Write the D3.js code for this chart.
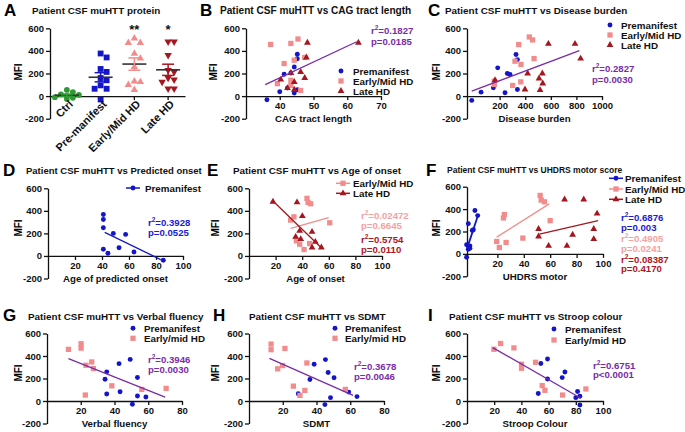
<!DOCTYPE html>
<html>
<head>
<meta charset="utf-8">
<script src="https://cdn.jsdelivr.net/npm/d3@7"></script>
<style>
  body { margin: 0; background: #fff; }
  svg text { font-family: "Liberation Sans", Arial, sans-serif; font-weight: bold; }
  .axis path, .axis line { stroke: #111; stroke-width: 1.3; }
  .axis text { font-size: 9.5px; fill: #111; }
</style>
</head>
<body>
<svg id="fig" width="685" height="432"></svg>
<script>
"use strict";

// ---- data ----
const groups = ["Ctrl", "Pre-manifest", "Early/Mid HD", "Late HD"];
const ctrlMfi = [55, 35, 15, 10, 0, -10, -25, -15];
const preMfi = [377, 342, 240, 214, 160, 140, 95, 65, 65, -30];
const earlyMfi = [511, 472, 472, 377, 333, 258, 131, 125, 100, 56];
const lateMfi = [481, 481, 362, 229, 214, 160, 145, 125, 65, 65];
const stars = ["", "", "**", "*"];

const yTicks = [-200, 0, 200, 400, 600];

// B: CAG tract length
const cagPre = [[36.2,-33],[40,39],[41.3,193],[44.3,258],[45.2,371],[45.2,330],[42.3,71],[44.3,27],[45.2,56],[43.3,205]];
const cagEarly = [[37.3,457],[43.3,466],[45.4,505],[41.3,288],[44.3,318],[47.4,342],[39.3,110],[43.3,140],[43.3,95],[46.2,50]];
const cagLate = [[48.2,472],[63.3,472],[47.9,342],[46.2,214],[47.4,160],[40.3,146],[44.3,125],[42.3,71],[44.3,56],[43.3,205]];
const cagFit = [[35.7,101],[62.8,481]];

// C: disease burden
const burdenPre = [[-18,-38],[55,35],[151,73],[185,250],[260,200],[281,191],[242,29],[328,368],[339,323],[339,59]];
const burdenEarly = [[349,456],[432,523],[458,497],[320,309],[367,280],[469,332],[302,94],[365,126],[159,132],[159,103]];
const burdenLate = [[164,140],[398,59],[419,200],[508,156],[534,200],[537,112],[516,53],[581,462],[789,462],[833,332]];
const burdenFit = [[-18,44],[823,403]];

// D: predicted onset
const predOnsetPre = [[41,368],[41,323],[41,250],[48.4,200],[57.5,191],[52.6,73],[41,59],[44.4,24],[63.7,35],[85.4,-38]];
const predOnsetFit = [[42,209],[83.5,-32]];

// E: age of onset
const onsetEarly = [[43.6,511],[44.4,475],[46.4,463],[33.8,347],[31.3,318],[60.7,294],[35.6,134],[45.6,110],[38.1,104],[41.4,57]];
const onsetLate = [[18,481],[36.1,475],[40.1,353],[38.1,223],[47.4,214],[35.1,169],[38.9,149],[49.9,125],[47.4,75],[54.4,75]];
const onsetEarlyFit = [[31.3,244],[59.9,341]];
const onsetLateFit = [[18,487],[54.9,66]];

// F: UHDRS motor
const motorPre = [[3,387],[5.1,342],[-2,270],[1.8,216],[1,210],[-3.3,81],[-0.8,72],[-2,42],[-0.8,51],[-3.3,-30]];
const motorEarly = [[52.4,522],[53.2,480],[55.7,465],[25.3,351],[24.6,321],[60,297],[39.3,141],[19.5,111],[26.6,102],[21.5,57]];
const motorLate = [[70.9,486],[85.4,486],[95.5,360],[51.2,222],[93,222],[51.2,156],[77,171],[93,132],[58.8,72],[72.7,72]];
const motorPreFit = [[-3.3,36],[5.1,336]];
const motorEarlyFit = [[19.5,150],[59.3,447]];
const motorLateFit = [[51.9,177],[96.3,297]];

// G: verbal fluency
const verbalPre = [[49.3,370],[42.7,332],[35.4,259],[34.4,194],[53.6,209],[35.4,62],[43.3,82],[53.6,44],[58.6,35],[50.6,-29]];
const verbalEarly = [[12.7,459],[20.2,509],[20.2,470],[26.5,347],[23.1,318],[27.5,288],[38.4,135],[22.7,53],[56.2,103],[70.6,112]];
const verbalFit = [[12.7,376],[70,35]];

// H: SDMT
const sdmtPre = [[45.3,368],[38.6,326],[46.9,253],[50.4,206],[36.1,191],[29.2,65],[48.3,30],[59.1,79],[64,39],[45,-32]];
const sdmtEarly = [[13.1,506],[13.1,456],[21.3,467],[19.9,315],[17,286],[34.3,338],[26.3,132],[33.1,94],[30.2,50],[57.1,103]];
const sdmtFit = [[12.1,379],[61.7,50]];

// I: Stroop colour
const stroopPre = [[59.2,374],[54.3,333],[72,258],[70,208],[59.2,196],[52.4,66],[81.3,84],[80,30],[83,42],[83,-36]];
const stroopEarly = [[19.8,460],[24.7,511],[34.5,472],[40.1,327],[40.1,291],[50.4,344],[55.3,137],[57.3,95],[70.3,53],[87.4,107]];
const stroopFit = [[18.9,475],[83.7,24]];

// ---- styles ----
const BLUE = "#1414c8", PINK = "#f28c8c", DARK = "#a5161e", GREEN = "#2f9a32", PURPLE = "#7a2ca6";
const PINK_TXT = "#f4a2a2", DARK_TXT = "#b0141c", BLUE_TXT = "#1a1ad2";

const pre = {name: "Premanifest", color: BLUE, shape: d3.symbolCircle, size: 19};
const early = {name: "Early/Mid HD", color: PINK, shape: d3.symbolSquare, size: 28};
const earlyLc = {name: "Early/mid HD", color: PINK, shape: d3.symbolSquare, size: 28};
const late = {name: "Late HD", color: DARK, shape: d3.symbolTriangle, size: 20};

const plain = d => String(d);

const svg = d3.select("#fig");

function letter(x, y, s) {
  svg.append("text").attr("x", x).attr("y", y).attr("font-size", 17).text(s);
}

function title(x, y, s, size = 9.9) {
  svg.append("text").attr("x", x).attr("y", y).attr("font-size", size).attr("fill", "#111").text(s);
}

function mfiLabel(x, yc) {
  svg.append("text").attr("transform", `translate(${x},${yc}) rotate(-90)`)
     .attr("text-anchor", "middle").attr("dy", "0.35em").attr("font-size", 10).text("MFI");
}

function statText(x, y1, y2, r2, p, color) {
  const t = svg.append("text").attr("x", x).attr("y", y1 + 3.4).attr("fill", color).attr("font-size", 9.6);
  t.append("tspan").text("r");
  t.append("tspan").attr("dy", -4).attr("font-size", 6.5).text("2");
  t.append("tspan").attr("dy", 4).text("=" + r2);
  svg.append("text").attr("x", x).attr("y", y2 + 3.4).attr("fill", color).attr("font-size", 9.6).text(p);
}

function legend(mx, tx, ys, entries, withLine) {
  entries.forEach((e, i) => {
    if (withLine) {
      svg.append("line").attr("x1", mx - 7).attr("x2", mx + 7).attr("y1", ys[i]).attr("y2", ys[i])
         .attr("stroke", e.color).attr("stroke-width", 1.5);
    }
    svg.append("path").attr("transform", `translate(${mx},${ys[i]})`)
       .attr("d", d3.symbol(e.shape, e.size)()).attr("fill", e.color);
    svg.append("text").attr("x", tx).attr("y", ys[i] + 3.5).attr("font-size", 9.8).attr("fill", "#111").text(e.name);
  });
}

function scatterPanel(p) {
  const x = d3.scaleLinear().domain(p.xDomain).range(p.xRange);
  const y = d3.scaleLinear().domain([-200, 600]).range(p.yRange);
  const g = svg.append("g");

  g.append("g").attr("class", "axis").attr("transform", `translate(${p.xRange[0]},0)`)
   .call(d3.axisLeft(y).tickValues(yTicks).tickFormat(plain).tickSize(4).tickSizeOuter(0).tickPadding(2));
  g.append("g").attr("class", "axis").attr("transform", `translate(0,${y(0)})`)
   .call(d3.axisBottom(x).tickValues(p.xTicks).tickFormat(plain).tickSize(4).tickSizeOuter(0).tickPadding(2));

  g.append("text").attr("x", (p.xRange[0] + p.xRange[1]) / 2).attr("y", p.yRange[0] + 3.2)
   .attr("text-anchor", "middle").attr("font-size", 9.7).attr("fill", "#111").text(p.xLabel);

  p.series.forEach(s => {
    g.append("g").selectAll("path").data(s.data).join("path")
     .attr("transform", d => `translate(${x(d[0])},${y(d[1])})`)
     .attr("d", d3.symbol(s.shape, s.size)()).attr("fill", s.color);
  });

  p.fits.forEach(f => {
    g.append("line")
     .attr("x1", x(f.pts[0][0])).attr("y1", y(f.pts[0][1]))
     .attr("x2", x(f.pts[1][0])).attr("y2", y(f.pts[1][1]))
     .attr("stroke", f.color).attr("stroke-width", f.width || 1.3);
  });
}

// ---- A: dot plot with mean +/- SEM ----
(function panelA() {
  const x = d3.scaleBand().domain(groups).range([50, 185]);
  const y = d3.scaleLinear().domain([-200, 600]).range([118.7, 28.3]);
  const g = svg.append("g");
  const sets = [
    {vals: ctrlMfi, color: GREEN, shape: d3.symbolCircle, size: 26, rot: 0},
    {vals: preMfi, color: BLUE, shape: d3.symbolSquare, size: 34, rot: 0},
    {vals: earlyMfi, color: PINK, shape: d3.symbolTriangle, size: 24, rot: 0},
    {vals: lateMfi, color: DARK, shape: d3.symbolTriangle, size: 24, rot: 180},
  ];

  g.append("g").attr("class", "axis").attr("transform", "translate(50,0)")
   .call(d3.axisLeft(y).tickValues(yTicks).tickFormat(plain).tickSize(4).tickSizeOuter(0).tickPadding(2));
  g.append("g").attr("class", "axis").attr("transform", `translate(0,${y(0)})`)
   .call(d3.axisBottom(x).tickSize(4).tickSizeOuter(0).tickFormat(""));

  groups.forEach((name, i) => {
    const cx = x(name) + x.bandwidth() / 2;
    const s = sets[i];

    // simple beeswarm so equal values sit side by side
    const placed = [];
    const sorted = s.vals.slice().sort((a, b) => b - a);
    sorted.forEach(v => {
      const py = y(v);
      const offsets = [0, 6, -6, 12, -12];
      let ox = 0;
      for (const o of offsets) {
        if (!placed.some(q => Math.abs(q[0] - (cx + o)) < 5.5 && Math.abs(q[1] - py) < 5.5)) { ox = o; break; }
      }
      placed.push([cx + ox, py]);
    });
    g.append("g").selectAll("path").data(placed).join("path")
     .attr("transform", d => `translate(${d[0]},${d[1]}) rotate(${s.rot})`)
     .attr("d", d3.symbol(s.shape, s.size)()).attr("fill", s.color);

    const m = d3.mean(s.vals);
    const sem = d3.deviation(s.vals) / Math.sqrt(s.vals.length);
    g.append("line").attr("x1", cx - 12).attr("x2", cx + 12).attr("y1", y(m)).attr("y2", y(m))
     .attr("stroke", "#333").attr("stroke-width", 1.6);
    g.append("line").attr("x1", cx).attr("x2", cx).attr("y1", y(m - sem)).attr("y2", y(m + sem))
     .attr("stroke", s.color).attr("stroke-width", 1.5);
    [m - sem, m + sem].forEach(v => {
      g.append("line").attr("x1", cx - 6).attr("x2", cx + 6).attr("y1", y(v)).attr("y2", y(v))
       .attr("stroke", s.color).attr("stroke-width", 1.5);
    });

    g.append("text").attr("transform", `translate(${cx + 4},${y(0) + 6}) rotate(-45)`)
     .attr("text-anchor", "end").attr("dy", "0.35em").attr("font-size", 11).attr("fill", "#111").text(name);

    if (stars[i]) {
      g.append("text").attr("x", cx).attr("y", 34).attr("text-anchor", "middle")
       .attr("font-size", 13).attr("fill", "#111").text(stars[i]);
    }
  });

  letter(4, 16, "A");
  title(32, 13.5, "Patient CSF muHTT protein");
  mfiLabel(18, 72);
})();

// ---- B ----
scatterPanel({
  xDomain: [30, 70], xRange: [246, 381], xTicks: [40, 50, 60, 70], yRange: [118.7, 28.3],
  xLabel: "CAG tract length",
  series: [{...pre, data: cagPre}, {...early, data: cagEarly}, {...late, data: cagLate}],
  fits: [{pts: cagFit, color: PURPLE}],
});
letter(200, 16, "B");
title(220, 13.5, "Patient CSF muHTT vs CAG tract length", 10.1);
mfiLabel(213, 72);
legend(341, 353, [71, 81, 91], [pre, early, late], false);
statText(371, 30.2, 41.7, "0.1827", "p=0.0185", PURPLE);

// ---- C ----
scatterPanel({
  xDomain: [-55, 1000], xRange: [467, 602], xTicks: [200, 400, 600, 800, 1000], yRange: [118.7, 28.3],
  xLabel: "Disease burden",
  series: [{...pre, data: burdenPre}, {...early, data: burdenEarly}, {...late, data: burdenLate}],
  fits: [{pts: burdenFit, color: PURPLE}],
});
letter(428, 16, "C");
title(445, 13.5, "Patient CSF muHTT vs Disease burden");
mfiLabel(436, 72);
legend(610, 621, [25, 35, 45], [pre, early, late], false);
statText(592, 68.5, 80, "0.2827", "p=0.0030", PURPLE);

// ---- D ----
scatterPanel({
  xDomain: [0, 100], xRange: [48, 183], xTicks: [20, 40, 60, 80, 100], yRange: [278.5, 188.3],
  xLabel: "Age of predicted onset",
  series: [{...pre, data: predOnsetPre}],
  fits: [{pts: predOnsetFit, color: BLUE}],
});
letter(3, 176, "D");
title(26, 173.5, "Patient CSF muHTT vs Predicted onset", 9.5);
mfiLabel(18, 228);
legend(133, 145, [188], [pre], true);
statText(148, 222.5, 233, "0.3928", "p=0.0525", BLUE_TXT);

// ---- E ----
scatterPanel({
  xDomain: [0, 100], xRange: [249, 382], xTicks: [20, 40, 60, 80, 100], yRange: [278.5, 188.3],
  xLabel: "Age of onset",
  series: [{...early, data: onsetEarly}, {...late, data: onsetLate}],
  fits: [{pts: onsetEarlyFit, color: PINK}, {pts: onsetLateFit, color: DARK}],
});
letter(207, 176, "E");
title(233, 173.5, "Patient CSF muHTT vs Age of onset");
mfiLabel(215, 228);
legend(343, 353, [183.3, 193.3], [early, late], true);
statText(361, 215.5, 226, "0.02472", "p=0.6645", PINK_TXT);
statText(361, 239.5, 249.5, "0.5754", "p=0.0110", DARK_TXT);

// ---- F ----
scatterPanel({
  xDomain: [-3, 100], xRange: [467, 603], xTicks: [20, 40, 60, 80, 100], yRange: [276.3, 186.7],
  xLabel: "UHDRS motor",
  series: [{...pre, data: motorPre}, {...early, data: motorEarly}, {...late, data: motorLate}],
  fits: [{pts: motorPreFit, color: BLUE, width: 1.8}, {pts: motorEarlyFit, color: PINK}, {pts: motorLateFit, color: DARK}],
});
letter(426, 176, "F");
title(447, 172.5, "Patient CSF muHTT vs UHDRS motor score", 8.5);
mfiLabel(436, 228);
legend(616, 625, [178.3, 189, 199.3], [pre, early, late], true);
statText(621, 218, 227.8, "0.6876", "p=0.003", BLUE_TXT);
statText(621, 238.8, 248.4, "0.4905", "p=0.0241", PINK_TXT);
statText(621, 259.5, 269, "0.08387", "p=0.4170", DARK_TXT);

// ---- G ----
scatterPanel({
  xDomain: [0, 80], xRange: [47, 182], xTicks: [20, 40, 60, 80], yRange: [423.5, 333.5],
  xLabel: "Verbal fluency",
  series: [{...pre, data: verbalPre}, {...earlyLc, data: verbalEarly}],
  fits: [{pts: verbalFit, color: PURPLE}],
});
letter(3, 321, "G");
title(28, 319.5, "Patient CSF muHTT vs Verbal fluency");
mfiLabel(18, 373);
legend(133, 144, [328.3, 338.3], [pre, earlyLc], false);
statText(148, 359.5, 369.5, "0.3946", "p=0.0030", PURPLE);

// ---- H ----
scatterPanel({
  xDomain: [0, 80], xRange: [249, 384], xTicks: [20, 40, 60, 80], yRange: [423.5, 333.5],
  xLabel: "SDMT",
  series: [{...pre, data: sdmtPre}, {...earlyLc, data: sdmtEarly}],
  fits: [{pts: sdmtFit, color: PURPLE}],
});
letter(213, 321, "H");
title(249, 319.5, "Patient CSF muHTT vs SDMT");
mfiLabel(215, 373);
legend(335, 345, [328.3, 338.3], [pre, earlyLc], false);
statText(354, 367, 377, "0.3678", "p=0.0046", PURPLE);

// ---- I ----
scatterPanel({
  xDomain: [0, 100], xRange: [467, 603], xTicks: [20, 40, 60, 80, 100], yRange: [423.5, 333.5],
  xLabel: "Stroop Colour",
  series: [{...pre, data: stroopPre}, {...earlyLc, data: stroopEarly}],
  fits: [{pts: stroopFit, color: PURPLE}],
});
letter(428, 321, "I");
title(449, 319.5, "Patient CSF muHTT vs Stroop colour");
mfiLabel(436, 373);
legend(554, 565, [329, 340], [pre, earlyLc], false);
statText(593, 365.3, 375, "0.6751", "p<0.0001", PURPLE);
</script>
</body>
</html>
